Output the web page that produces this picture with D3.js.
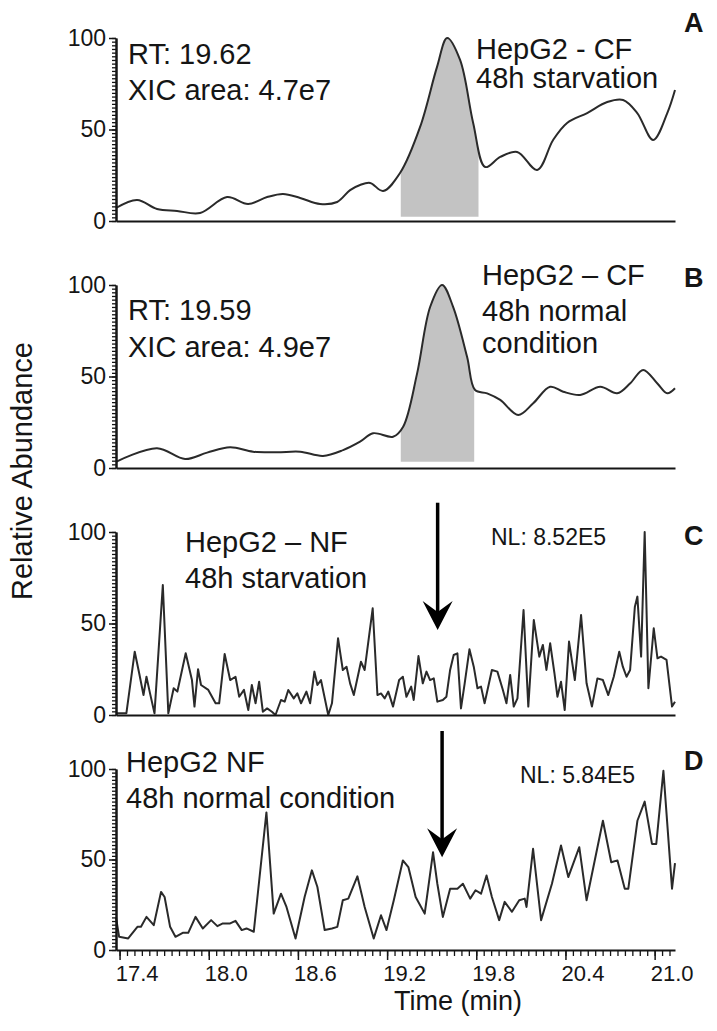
<!DOCTYPE html>
<html><head><meta charset="utf-8">
<script src="https://cdn.jsdelivr.net/npm/d3@7"></script>
<style>
body{margin:0;background:#fff;}
svg{display:block;font-family:"Liberation Sans",Arial,sans-serif;}
</style></head><body>
<svg id="chart" width="717" height="1031"></svg>
<script>
// ---------- data ----------
const timeA = [17.376,17.518,17.652,17.787,17.942,18.123,18.265,18.393,18.500,18.615,18.749,18.864,18.951,19.018,19.086,19.173,19.287,19.422,19.536,19.604,19.691,19.779,19.860,19.961,20.075,20.210,20.317,20.411,20.546,20.681,20.788,20.883,20.990,21.085,21.137];
const valueA = [7.1,11.5,6.6,5.5,4.4,13.1,9.3,13.1,14.8,12.6,9.3,10.4,16.9,19.7,20.8,16.4,26.2,51.4,84.2,100,88,53.6,29.5,35,37.7,27.9,44.3,53.6,59,65,66.1,59,44.3,59,71.6];

const timeB = [17.376,17.652,17.841,17.989,18.144,18.298,18.460,18.615,18.769,18.904,19.018,19.106,19.240,19.308,19.402,19.490,19.570,19.644,19.738,19.792,19.873,19.961,20.082,20.183,20.297,20.385,20.499,20.634,20.748,20.836,20.923,21.017,21.085,21.137];
const valueB = [3.4,10.8,4.9,8.4,11.3,8.9,8.6,8.9,6.6,9.8,14.4,19,17.1,22.6,51.7,88.1,100,88.1,60.8,42.6,40.8,37.2,29,35.4,44.4,41.7,39.9,44.4,40.8,46.3,53.6,46.3,40.8,43.6];

const timeC = [17.376,17.446,17.502,17.532,17.561,17.581,17.605,17.635,17.691,17.728,17.764,17.789,17.845,17.887,17.904,17.928,17.948,17.997,18.046,18.070,18.107,18.144,18.180,18.205,18.237,18.266,18.290,18.315,18.339,18.364,18.393,18.425,18.449,18.486,18.511,18.535,18.572,18.596,18.621,18.657,18.682,18.711,18.731,18.755,18.804,18.829,18.870,18.902,18.927,18.951,18.976,19.024,19.049,19.103,19.135,19.159,19.184,19.208,19.240,19.281,19.306,19.330,19.362,19.379,19.411,19.440,19.465,19.489,19.514,19.538,19.575,19.599,19.624,19.648,19.673,19.697,19.722,19.754,19.783,19.808,19.832,19.856,19.905,19.942,19.979,20.003,20.028,20.052,20.077,20.118,20.150,20.187,20.224,20.248,20.272,20.297,20.326,20.346,20.370,20.395,20.424,20.463,20.505,20.542,20.578,20.615,20.652,20.688,20.725,20.762,20.786,20.811,20.835,20.867,20.884,20.909,20.933,20.958,20.994,21.019,21.043,21.080,21.117,21.137];
const valueC = [1,1,34.6,22.8,10.9,20.9,11.8,0.9,71,0.9,14.6,12.8,33.7,19.1,4.6,25,16.4,13.7,6.4,6.4,33.3,19.1,20.9,10,13.7,2.7,16.4,6.4,18.2,1.8,3.6,1.8,0,8.2,7.3,13.7,9.1,11.8,6.4,12.8,6.4,23.7,16.4,19.1,0,6.4,41.9,24.6,26.4,17.3,10.9,29.1,24.6,58.3,10.9,11.8,9.1,12.8,4.6,19.1,20.9,10,15.5,8.2,32.2,17.3,23.7,19.1,20,7.3,8.2,10,24.6,32.8,33.7,3.6,17.3,35.9,26.4,14.6,15.5,6.4,24.6,23.7,13.7,6.4,21.9,4.6,9.1,57.4,4.6,51.9,31.9,38.3,24.6,39.2,22.8,10,18.2,2.7,40.1,19.1,54.6,17.3,4.6,20,19.1,10.9,20.9,34.6,26.4,20.9,24.6,59.2,64.7,31.9,100,14.6,47.4,31,31.9,30.1,4.6,7.3];

const timeD = [17.376,17.397,17.458,17.520,17.544,17.581,17.630,17.679,17.703,17.740,17.776,17.825,17.862,17.911,17.960,18.016,18.058,18.095,18.144,18.180,18.222,18.254,18.303,18.388,18.437,18.486,18.523,18.584,18.645,18.694,18.731,18.780,18.829,18.865,18.902,18.939,19.000,19.049,19.110,19.159,19.196,19.245,19.306,19.343,19.392,19.453,19.509,19.538,19.575,19.624,19.673,19.710,19.759,19.795,19.832,19.869,19.905,19.954,19.991,20.040,20.089,20.126,20.138,20.182,20.236,20.309,20.370,20.419,20.493,20.542,20.652,20.708,20.750,20.799,20.823,20.884,20.933,20.982,21.011,21.059,21.117,21.137];
const valueD = [18,7.3,6.4,12.8,12.8,18.3,13.7,32.1,29.3,12.8,7.3,9.5,9.5,18.3,11.9,16.5,13.2,14.7,14.7,16.1,11,11.9,10.1,76,20.1,31.1,23.8,6.4,29.3,44,34.8,11,11.9,12.8,27.5,28.4,40.7,23.8,6.4,19.2,11,27.5,49.5,45.8,29.3,20.1,54,36.6,18.3,33.9,33.9,36.6,28.4,33,31.1,41.2,29.3,16.5,26.6,21.1,27.5,28.4,23.8,55.9,16.5,36.6,57.7,40.3,56.8,27.5,71.4,48.5,49.5,33.9,33.9,71.4,82,58.6,58.6,99,33.9,48];

const xDomain = [17.376, 21.137];
const yTicksMajor = [0, 50, 100];
const xTicksMajor = [17.4, 18.0, 18.6, 19.2, 19.8, 20.4, 21.0];
const xTickLabels = ["17.4", "18.0", "18.6", "19.2", "19.8", "20.4", "21.0"];
const panelLetters = ["A", "B", "C", "D"];
const shadeRangeA = [19.292, 19.815];
const shadeRangeB = [19.292, 19.786];
const arrowTimeC = 19.54, arrowTimeD = 19.57;
const textA = ["RT: 19.62", "XIC area: 4.7e7", "HepG2 - CF", "48h starvation"];
const textB = ["RT: 19.59", "XIC area: 4.9e7", "HepG2 \u2013 CF", "48h normal", "condition"];
const textC = ["HepG2 \u2013 NF", "48h starvation", "NL: 8.52E5"];
const textD = ["HepG2 NF", "48h normal condition", "NL: 5.84E5"];
const yTitle = "Relative Abundance";
const xTitle = "Time (min)";

// ---------- drawing ----------
const svg = d3.select("#chart");
const ink = "#151515";
const x = d3.scaleLinear().domain(xDomain).range([116, 675]);

const panels = [
  {t: timeA, v: valueA, y0: 221, y100: 38, smooth: true, shade: shadeRangeA, base: 2.3},
  {t: timeB, v: valueB, y0: 468, y100: 285, smooth: true, shade: shadeRangeB, base: 3.4},
  {t: timeC, v: valueC, y0: 715, y100: 532, smooth: false},
  {t: timeD, v: valueD, y0: 950, y100: 769, smooth: false}
];

panels.forEach((p, i) => {
  const y = d3.scaleLinear().domain([0, 100]).range([p.y0, p.y100]);
  p.y = y;
  const g = svg.append("g");
  const pts = p.t.map((t, k) => [t, p.v[k]]);
  const curve = p.smooth ? d3.curveCatmullRom.alpha(0.5) : d3.curveLinear;

  if (p.shade) {
    const cid = "clip" + i;
    svg.append("clipPath").attr("id", cid).append("rect")
      .attr("x", x(p.shade[0])).attr("width", x(p.shade[1]) - x(p.shade[0]))
      .attr("y", 0).attr("height", 1031);
    g.append("path").datum(pts).attr("clip-path", `url(#${cid})`)
      .attr("fill", "#c3c3c3")
      .attr("d", d3.area().x(d => x(d[0])).y0(y(p.base)).y1(d => y(d[1])).curve(curve));
  }

  g.append("path").datum(pts)
    .attr("fill", "none").attr("stroke", "#2a2a2a").attr("stroke-width", 2)
    .attr("stroke-linejoin", "round")
    .attr("d", d3.line().x(d => x(d[0])).y(d => y(d[1])).curve(curve));

  // y axis: minor then major
  const ya = svg.append("g").attr("transform", "translate(116,0)");
  ya.call(d3.axisLeft(y).tickValues(d3.range(0, 101, 2)).tickSize(4).tickSizeOuter(0).tickFormat(""));
  ya.call(g2 => g2.selectAll(".tick line").attr("stroke", ink).attr("stroke-width", 1.3));
  const yb = svg.append("g").attr("transform", "translate(116,0)");
  yb.call(d3.axisLeft(y).tickValues(yTicksMajor).tickSize(7).tickPadding(3).tickSizeOuter(0));
  yb.selectAll(".tick line").attr("stroke", ink).attr("stroke-width", 1.5);
  yb.selectAll(".tick text").attr("font-size", 23).attr("fill", ink)
    .attr("font-family", '"Liberation Sans",Arial,sans-serif');
  [ya, yb].forEach(a => a.select(".domain").attr("stroke", ink).attr("stroke-width", 2));

  // x baseline
  const xa = svg.append("g").attr("transform", `translate(0,${p.y0})`);
  if (i < 3) {
    xa.call(d3.axisBottom(x).tickValues([]).tickSizeOuter(0));
  } else {
    const minor = d3.range(0, 80).map(k => +(17.4 + k * 0.05).toFixed(2)).filter(v => v <= xDomain[1]);
    xa.call(d3.axisBottom(x).tickValues(minor).tickSize(6).tickSizeOuter(0).tickFormat(""));
    xa.selectAll(".tick line").attr("stroke", ink).attr("stroke-width", 1.3);
    const xb = svg.append("g").attr("transform", `translate(0,${p.y0})`);
    xb.call(d3.axisBottom(x).tickValues(xTicksMajor).tickSize(10).tickSizeOuter(0)
      .tickFormat((d, k) => xTickLabels[k]));
    xb.select(".domain").remove();
    xb.selectAll(".tick line").attr("stroke", ink).attr("stroke-width", 1.5);
    xb.selectAll(".tick text").attr("font-size", 22).attr("fill", ink)
      .attr("font-family", '"Liberation Sans",Arial,sans-serif')
      .attr("y", 31).attr("dy", null).attr("dx", 17);
  }
  xa.select(".domain").attr("stroke", ink).attr("stroke-width", 2);
});

function txt(s, px, py, size, weight) {
  svg.append("text").attr("x", px).attr("y", py).attr("font-size", size)
    .attr("font-weight", weight || "normal").attr("fill", ink).text(s);
}
// annotations
txt(textA[0], 128, 64, 29); txt(textA[1], 128, 100, 29);
txt(textA[2], 476, 59, 29); txt(textA[3], 476, 88, 29);
txt(textB[0], 128, 320, 29); txt(textB[1], 128, 357, 29);
txt(textB[2], 482, 285, 29); txt(textB[3], 482, 321, 29); txt(textB[4], 482, 353, 29);
txt(textC[0], 185, 552, 29); txt(textC[1], 185, 588, 29); txt(textC[2], 491, 545, 23);
txt(textD[0], 126, 772, 29); txt(textD[1], 126, 808, 29); txt(textD[2], 520, 783, 23);
const letterY = [32, 287, 545, 770];
panelLetters.forEach((L, k) => txt(L, 684, letterY[k], 27, "bold"));

// arrows
function arrow(t, yTop, yTip) {
  const ax = x(t);
  svg.append("line").attr("x1", ax).attr("x2", ax).attr("y1", yTop).attr("y2", yTip - 14)
    .attr("stroke", "#000").attr("stroke-width", 3.5);
  svg.append("path")
    .attr("d", `M${ax},${yTip} L${ax - 15},${yTip - 29} L${ax},${yTip - 18} L${ax + 15},${yTip - 29} Z`)
    .attr("fill", "#000");
}
arrow(arrowTimeC, panels[2].y(116), panels[2].y(46.4));
arrow(arrowTimeD, panels[3].y(121), panels[3].y(51.3));

// axis titles
svg.append("text").attr("transform", "translate(32,471) rotate(-90)")
  .attr("text-anchor", "middle").attr("font-size", 29).attr("fill", ink).text(yTitle);
svg.append("text").attr("x", 458).attr("y", 1010).attr("text-anchor", "middle")
  .attr("font-size", 27).attr("fill", ink).text(xTitle);
</script>
</body></html>
